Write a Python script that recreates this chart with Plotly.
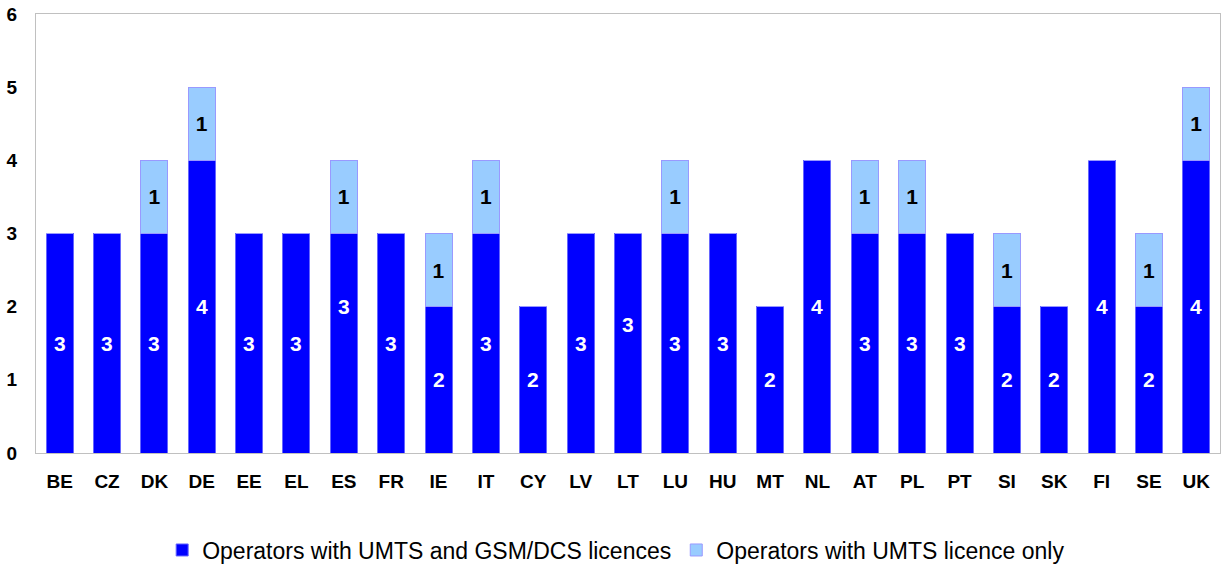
import plotly.graph_objects as go

# Member states and operator counts
countries = ["BE", "CZ", "DK", "DE", "EE", "EL", "ES", "FR", "IE", "IT", "CY", "LV", "LT",
             "LU", "HU", "MT", "NL", "AT", "PL", "PT", "SI", "SK", "FI", "SE", "UK"]
umts_and_gsm = [3, 3, 3, 4, 3, 3, 3, 3, 2, 3, 2, 3, 3, 3, 3, 2, 4, 3, 3, 3, 2, 2, 4, 2, 4]
umts_only = [0, 0, 1, 1, 0, 0, 1, 0, 1, 1, 0, 0, 0, 1, 0, 0, 0, 1, 1, 0, 1, 0, 0, 1, 1]

series_names = ["Operators with UMTS and GSM/DCS licences", "Operators with UMTS licence only"]
y_ticks = [0, 1, 2, 3, 4, 5, 6]

# a few labels sit above the centre of their segment
label_shift = {"ES": 0.5, "LT": 0.25}

FONT = "Liberation Sans, Arial, sans-serif"
DARK = "#0000FF"
LIGHT = "#99CCFF"

fig = go.Figure()
fig.add_trace(go.Bar(
    x=countries, y=umts_and_gsm, name=series_names[0],
    marker=dict(color=DARK, line=dict(color="#6666FF", width=1)),
))
fig.add_trace(go.Bar(
    x=countries, y=umts_only, name=series_names[1],
    marker=dict(color=LIGHT, line=dict(color="#9999FF", width=1)),
    text=[str(v) if v else "" for v in umts_only],
    textposition="inside", insidetextanchor="middle",
    textfont=dict(family=FONT, size=21, color="black", weight="bold"),
    textangle=0,
))

for c, v in zip(countries, umts_and_gsm):
    fig.add_annotation(
        x=c, y=v / 2 + label_shift.get(c, 0), text=f"<b>{v}</b>", showarrow=False,
        font=dict(family=FONT, size=21, color="white"),
    )

fig.update_layout(
    width=1221, height=564,
    margin=dict(l=36, r=1, t=14, b=111, autoexpand=False),
    barmode="stack", bargap=0.43,
    plot_bgcolor="white", paper_bgcolor="white",
    font=dict(family=FONT, color="black"),
    showlegend=True,
    legend=dict(
        orientation="h", traceorder="normal",
        x=0.49, xanchor="center", y=-0.221, yanchor="middle",
        font=dict(family=FONT, size=23, color="black"),
        itemwidth=30, tracegroupgap=0,
    ),
    uniformtext=dict(mode="show", minsize=21),
)
fig.update_xaxes(
    showline=True, linecolor="#C0C0C0", linewidth=1, mirror=True,
    ticks="", ticklabelstandoff=11,
    tickfont=dict(family=FONT, size=19, color="black", weight="bold"),
)
fig.update_yaxes(
    range=[0, 6], tickvals=y_ticks, showgrid=False, zeroline=False,
    showline=True, linecolor="#C0C0C0", linewidth=1, mirror=True,
    ticks="", ticklabelstandoff=14,
    tickfont=dict(family=FONT, size=19, color="black", weight="bold"),
)

fig.write_html("out.html")
